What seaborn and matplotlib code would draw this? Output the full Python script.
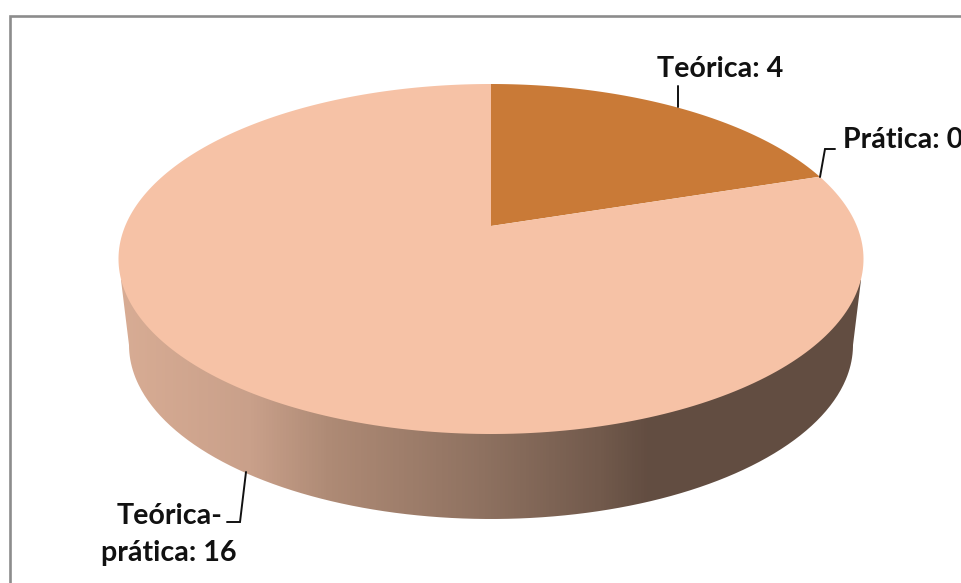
import numpy as np
import matplotlib
matplotlib.use("Agg")
import matplotlib.pyplot as plt
import seaborn as sns
from matplotlib.colors import LinearSegmentedColormap
from matplotlib.patches import PathPatch
from matplotlib.path import Path
from matplotlib.transforms import Transform, Affine2D

categories = ["Teórica", "Prática", "Teórica-prática"]
values = [4, 0, 16]
slice_colors = ["#C97A37", "#9A4A2A", "#F6C2A6"]
label_texts = ["Teórica: 4", "Prática: 0", "Teórica-\nprática: 16"]

sns.set_theme(style="white")
plt.rcParams["font.family"] = ["Lato", "DejaVu Sans"]

CX, CY, RX, RY, APEX = 491.0, 259.0, 372.5, 175.0, 33.0
K = APEX / RY
RX_IN = RX * np.sqrt(1 - K ** 2)


class TiltedPie(Transform):
    """Projects the flat unit-circle pie onto the tilted top face (pixel axes)."""
    input_dims = 2
    output_dims = 2
    is_separable = False
    has_inverse = False

    def transform_non_affine(self, pts):
        pts = np.asarray(pts, dtype=float)
        x, y = pts[:, 0], pts[:, 1]
        d = 1 + K * y
        return np.column_stack([CX + RX_IN * x / d, CY - (RY * y + APEX) / d])

    def transform_path_non_affine(self, path):
        polys = path.transformed(Affine2D().scale(2000)).to_polygons(closed_only=False)
        v = np.vstack(polys) / 2000.0 if polys else np.zeros((0, 2))
        return Path(self.transform_non_affine(v)) if len(v) else Path(np.zeros((1, 2)))


fig = plt.figure(figsize=(9.61, 5.83), dpi=100, facecolor="white")
ax = fig.add_axes([0, 0, 1, 1])

wedges, _ = ax.pie(values, colors=slice_colors, startangle=90, counterclock=False,
                   radius=1.0, center=(0, 0), frame=False,
                   wedgeprops=dict(linewidth=0, zorder=3))
tilt = TiltedPie()
for w in wedges:
    w.set_transform(tilt + ax.transData)
    w.set_antialiased(True)

ax.set_aspect("auto")
ax.set_xlim(0, 961)
ax.set_ylim(583, 0)
ax.axis("off")

# Side wall of the disc, with a horizontal shading
side_stops = [(121, "#D8AC94"), (250, "#C9A08A"), (330, "#AE8A75"),
              (480, "#8F7261"), (600, "#725A4C"), (650, "#624D41"), (861, "#624D41")]
cmap = LinearSegmentedColormap.from_list(
    "side", [((x - 121) / (861 - 121), c) for x, c in side_stops])
grad = np.linspace(0, 1, 740).reshape(1, -1)
im = ax.imshow(grad, extent=(121, 861, 583, 0), cmap=cmap, aspect="auto", zorder=1)
ax.set_xlim(0, 961)
ax.set_ylim(583, 0)

t = np.linspace(np.pi, 0, 300)
bx = 491 + 362 * np.cos(t)
by = 345 + 174 * np.sin(t)
sv = np.vstack([[(491, 259)], [(121, 280)], np.column_stack([bx, by]), [(861, 280)], [(491, 259)]])
clip = PathPatch(Path(sv), transform=ax.transData, facecolor="none", edgecolor="none")
ax.add_patch(clip)
im.set_clip_path(clip)

# Chart-area border
ax.plot([9.5, 9.5, 961], [583, 15.5, 15.5], color="#8C8C8C", lw=1.9, zorder=5,
        solid_joinstyle="miter", clip_on=False)

# Leader lines
leader = dict(color="#111111", lw=1.4, zorder=6, solid_joinstyle="miter")
ax.plot([678, 678], [86, 107], **leader)
ax.plot([820, 825, 835], [177, 149, 149], **leader)
ax.plot([246, 240, 227], [472, 522, 522], **leader)

# Labels
font = dict(fontsize=20.6, fontweight="bold", color="#111111", zorder=7)
ax.text(657, 77, label_texts[0], ha="left", va="baseline", **font)
ax.text(843, 148, label_texts[1], ha="left", va="baseline", clip_on=True, **font)
lines = label_texts[2].split("\n")
ax.text(170, 524, lines[0], ha="center", va="baseline", **font)
ax.text(169, 561, lines[1], ha="center", va="baseline", **font)

fig.savefig("out.png", dpi=100, facecolor="white")
